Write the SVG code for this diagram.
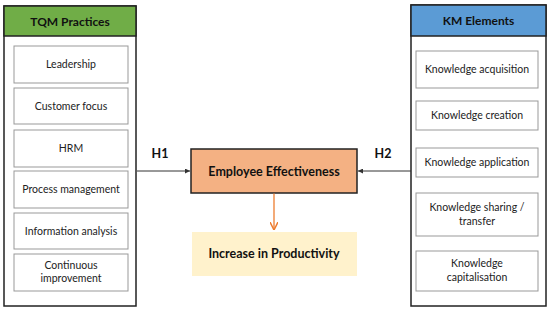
<svg xmlns="http://www.w3.org/2000/svg" width="550" height="312" viewBox="0 0 550 312">
<defs>
<style>
.frame{fill:#fff;stroke:#222;stroke-width:1.5}
.item{fill:#fff;stroke:#999;stroke-width:1}
.t{font-family:Lato,"Liberation Sans",sans-serif;font-size:10.5px;fill:#222;text-anchor:middle}
.h{font-family:Lato,"Liberation Sans",sans-serif;font-size:12px;font-weight:bold;fill:#111;text-anchor:middle}
.b{font-family:Lato,"Liberation Sans",sans-serif;font-size:12.5px;font-weight:bold;fill:#111;text-anchor:middle}
.con{stroke:#333;stroke-width:1;fill:none}
</style>
<marker id="ah" viewBox="0 0 8 8" refX="8" refY="4" markerWidth="5" markerHeight="5" orient="auto"><path d="M0,0 L8,4 L0,8 z" fill="#333"/></marker>
<marker id="aho" viewBox="0 0 8 8" refX="8" refY="4" markerWidth="8" markerHeight="8" markerUnits="userSpaceOnUse" orient="auto"><path d="M0,0 L8,4 L0,8" fill="none" stroke="#ED7D31" stroke-width="1.5"/></marker>
</defs>
<rect width="550" height="312" fill="#fff"/>
<g id="tqm">
<rect class="frame" x="4" y="6" width="132" height="300"/>
<rect x="4" y="6" width="132" height="30" fill="#70AD47" stroke="#222" stroke-width="1.5"/>
<text class="h" x="70" y="25.5">TQM Practices</text>
</g>
<g id="leadership"><rect class="item" x="14" y="46" width="114" height="37"/><text class="t" x="71" y="68">Leadership</text></g>
<g id="customer"><rect class="item" x="14" y="88" width="114" height="36"/><text class="t" x="71" y="109.5">Customer focus</text></g>
<g id="hrm"><rect class="item" x="14" y="130" width="114" height="37"/><text class="t" x="71" y="152">HRM</text></g>
<g id="process"><rect class="item" x="14" y="171" width="114" height="37"/><text class="t" x="71" y="193">Process management</text></g>
<g id="info"><rect class="item" x="14" y="213" width="114" height="36"/><text class="t" x="71" y="234.5">Information analysis</text></g>
<g id="continuous"><rect class="item" x="14" y="254" width="114" height="37"/><text class="t" x="71" y="268.5">Continuous</text><text class="t" x="71" y="282">improvement</text></g>

<g id="km">
<rect class="frame" x="411" y="5" width="135" height="301"/>
<rect x="411" y="5" width="135" height="31" fill="#5B9BD5" stroke="#222" stroke-width="1.5"/>
<text class="h" x="478.5" y="25">KM Elements</text>
</g>
<g id="acq"><rect class="item" x="416" y="51" width="122" height="37"/><text class="t" x="477" y="73">Knowledge acquisition</text></g>
<g id="creation"><rect class="item" x="416" y="101" width="122" height="29"/><text class="t" x="477" y="119">Knowledge creation</text></g>
<g id="application"><rect class="item" x="416" y="148" width="122" height="29"/><text class="t" x="477" y="166">Knowledge application</text></g>
<g id="sharing"><rect class="item" x="416" y="193" width="122" height="43"/><text class="t" x="477" y="211">Knowledge sharing /</text><text class="t" x="477" y="225">transfer</text></g>
<g id="capital"><rect class="item" x="416" y="251" width="122" height="40"/><text class="t" x="477" y="267">Knowledge</text><text class="t" x="477" y="281">capitalisation</text></g>

<g id="employee">
<rect x="191" y="149" width="166" height="44" fill="#F4B183" stroke="#222" stroke-width="1.5"/>
<text class="b" x="274" y="176">Employee Effectiveness</text>
</g>
<g id="productivity">
<rect x="192" y="232" width="165" height="44" fill="#FFF2CC"/>
<text class="b" x="274" y="258">Increase in Productivity</text>
</g>

<g id="connectors">
<line class="con" x1="137" y1="171" x2="190" y2="171" marker-end="url(#ah)"/>
<line class="con" x1="411" y1="171" x2="358" y2="171" marker-end="url(#ah)"/>
<line x1="274" y1="193.5" x2="274" y2="230" stroke="#ED7D31" stroke-width="1.3" marker-end="url(#aho)"/>
<text class="b" x="160" y="158">H1</text>
<text class="b" x="383" y="158">H2</text>
</g>
</svg>
